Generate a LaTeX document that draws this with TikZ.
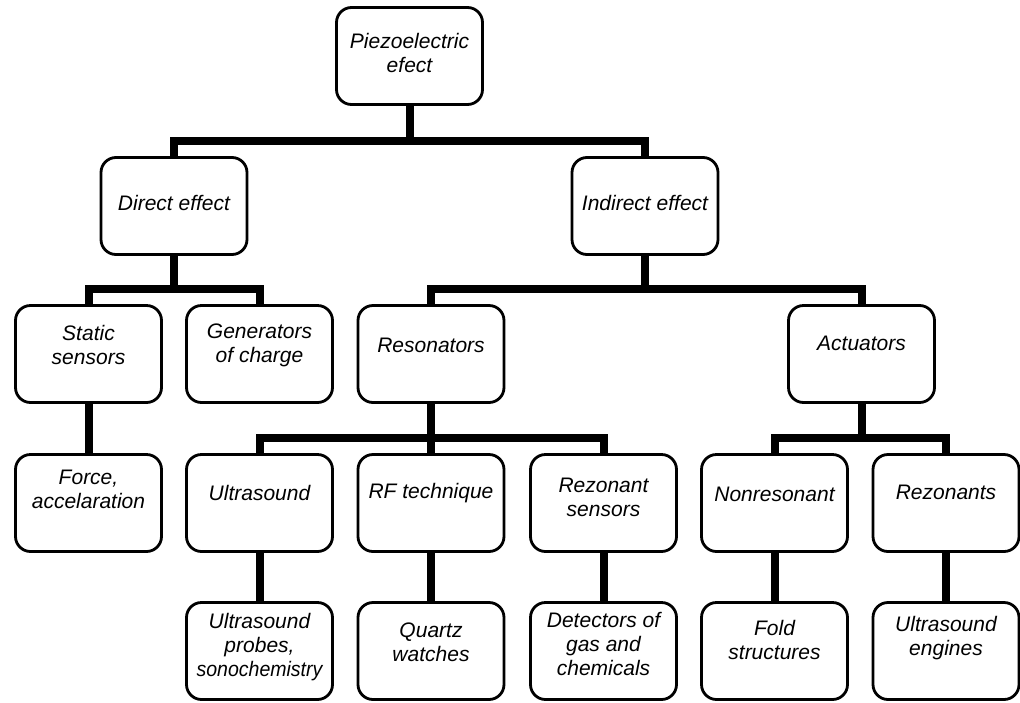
\documentclass[tikz,border=0pt]{standalone}
\usepackage{fontspec}
\setmainfont{Liberation Sans}
\usetikzlibrary{backgrounds}
\begin{document}
\begin{tikzpicture}[x=1pt,y=-1pt,
  box/.style={draw=black, line width=2.8pt, rounded corners=15pt, fill=white,
    minimum width=146pt, minimum height=97pt, inner sep=0pt},
  lbl/.style={align=center, font=\fontsize{21}{24}\selectfont\itshape, inner sep=0pt},
  conn/.style={line width=8pt, line join=miter, line cap=butt}]
\useasboundingbox (0,0) rectangle (1020,702);
% level 0
\node[box] (piezo) at (409.5,56) {};
\node[lbl] at (409.5,53) {Piezoelectric\\efect};
% level 1
\node[box] (direct) at (174,206) {};
\node[lbl] at (174,203) {Direct effect};
\node[box] (indirect) at (645,206) {};
\node[lbl] at (645,203) {Indirect effect};
% level 2
\node[box] (static) at (88.5,354) {};
\node[lbl] at (88.5,345) {Static\\sensors};
\node[box] (gen) at (259.5,354) {};
\node[lbl] at (259.5,345) {Generators\\of charge};
\node[box] (reson) at (431,354) {};
\node[lbl] at (431,345) {Resonators};
\node[box] (actu) at (861.5,354) {};
\node[lbl] at (861.5,343) {Actuators};
% level 3
\node[box] (force) at (88.5,503) {};
\node[lbl] at (88.5,489) {Force,\\accelaration};
\node[box] (ultra) at (259.5,503) {};
\node[lbl] at (259.5,493) {Ultrasound};
\node[box] (rf) at (431,503) {};
\node[lbl] at (431,493) {RF technique};
\node[box] (rezs) at (603.5,503) {};
\node[lbl] at (603.5,497) {Rezonant\\sensors};
\node[box] (nonres) at (774.5,503) {};
\node[lbl] at (774.5,494) {Nonresonant};
\node[box] (rezts) at (946,503) {};
\node[lbl] at (946,492) {Rezonants};
% level 4
\node[box] (probes) at (259.5,651) {};
\node[lbl] at (259.5,647) {Ultrasound\\probes,\\\scalebox{0.93}[1]{sonochemistry}};
\node[box] (quartz) at (431,651) {};
\node[lbl] at (431,642) {Quartz\\watches};
\node[box] (detect) at (603.5,651) {};
\node[lbl] at (603.5,644) {Detectors of\\gas and\\chemicals};
\node[box] (fold) at (774.5,651) {};
\node[lbl] at (774.5,640) {Fold\\structures};
\node[box] (engines) at (946,651) {};
\node[lbl] at (946,638) {Ultrasound\\engines};
% connectors
\begin{scope}[on background layer]
\coordinate (j1) at (409.5,141);
\draw[conn] (piezo.south) -- (j1);
\draw[conn] (direct.north) |- (j1) -| (indirect.north);
\coordinate (j2) at (174,289);
\draw[conn] (direct.south) -- (j2);
\draw[conn] (static.north) |- (j2) -| (gen.north);
\coordinate (j3) at (645,289);
\draw[conn] (indirect.south) -- (j3);
\draw[conn] (reson.north) |- (j3) -| (actu.north);
\draw[conn] (static.south) -- (force.north);
\coordinate (j4) at (431,438);
\draw[conn] (reson.south) -- (j4) -- (rf.north);
\draw[conn] (ultra.north) |- (j4) -| (rezs.north);
\coordinate (j5) at (861.5,438);
\draw[conn] (actu.south) -- (j5);
\draw[conn] (nonres.north) |- (j5) -| (rezts.north);
\draw[conn] (ultra.south) -- (probes.north);
\draw[conn] (rf.south) -- (quartz.north);
\draw[conn] (rezs.south) -- (detect.north);
\draw[conn] (nonres.south) -- (fold.north);
\draw[conn] (rezts.south) -- (engines.north);
\end{scope}
\end{tikzpicture}
\end{document}
